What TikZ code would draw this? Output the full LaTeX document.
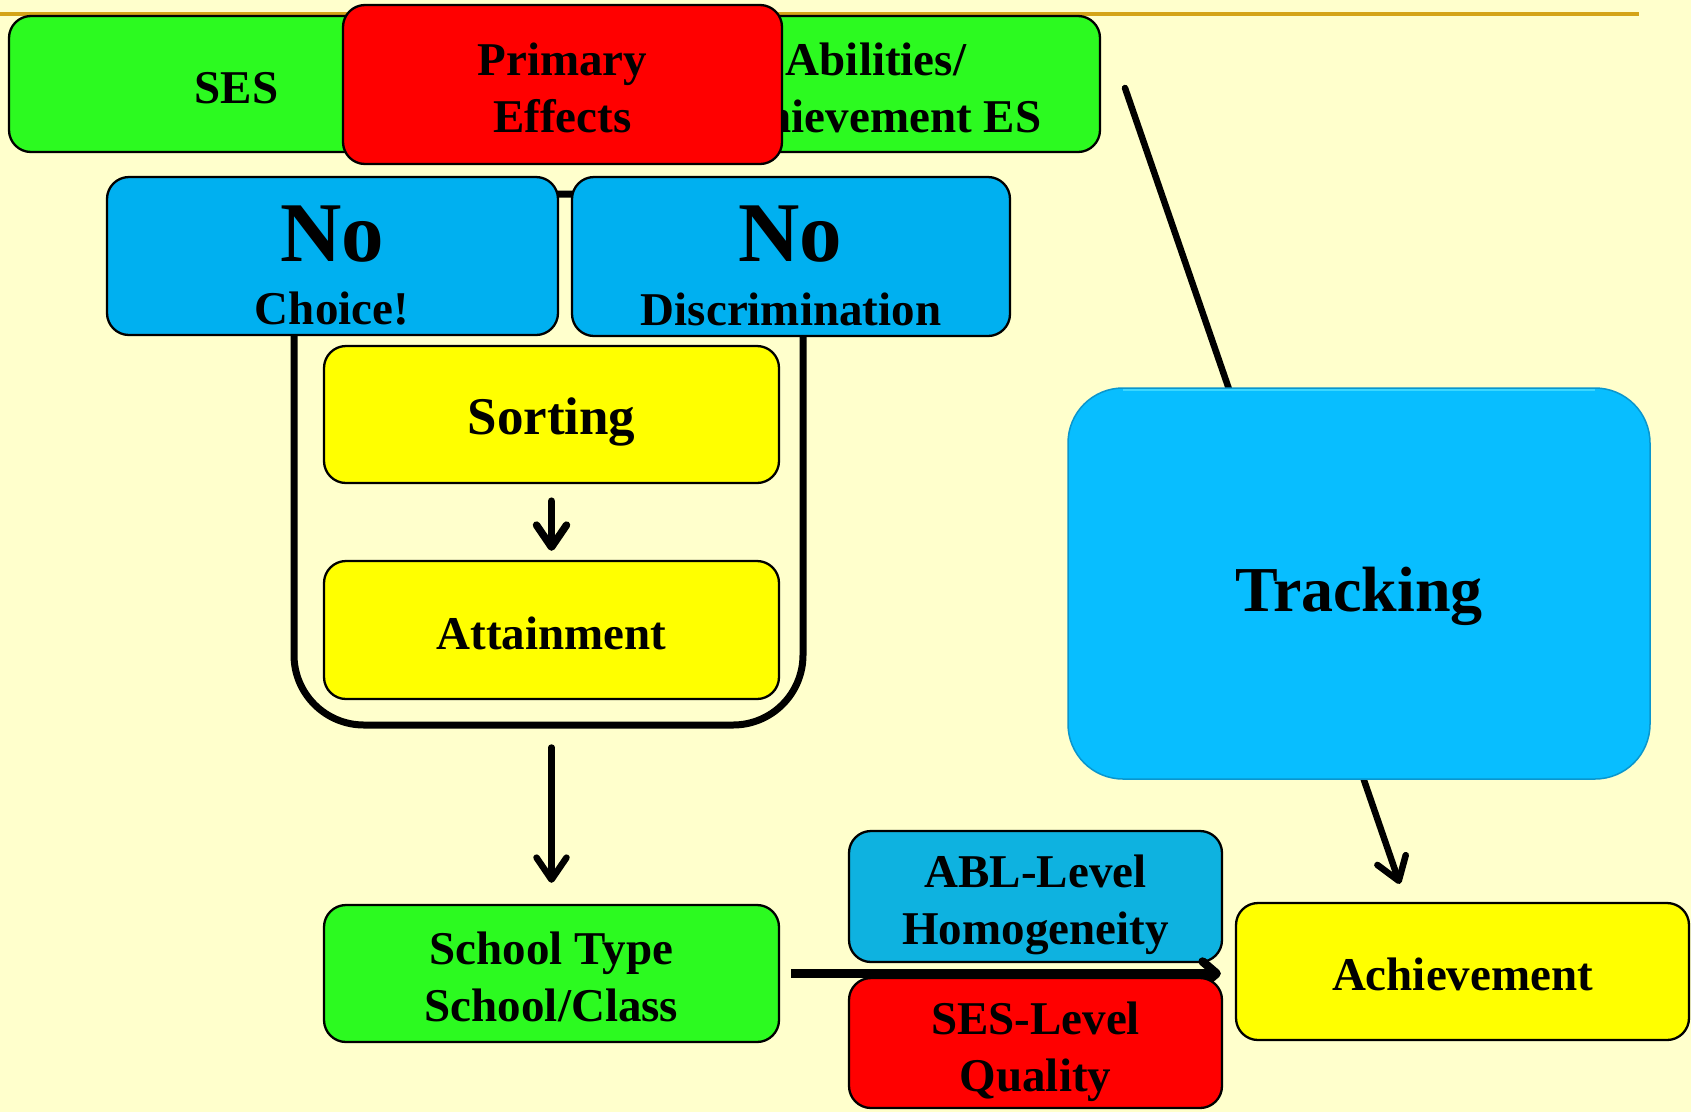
\documentclass[tikz,border=0pt]{standalone}
\usepackage{fontspec}
\setmainfont{Liberation Serif}
\usetikzlibrary{arrows.meta}

\definecolor{paper}{RGB}{255,255,204}
\definecolor{rulegold}{RGB}{212,164,24}
\definecolor{boxgreen}{RGB}{44,250,32}
\definecolor{boxred}{RGB}{255,0,0}
\definecolor{boxblue}{RGB}{0,176,240}
\definecolor{ablblue}{RGB}{14,178,224}
\definecolor{trackblue}{RGB}{8,190,255}
\definecolor{trackedge}{RGB}{10,150,205}
\definecolor{trackglow}{RGB}{60,215,255}
\definecolor{boxyellow}{RGB}{255,255,0}

\tikzset{
  box/.style={draw=black, line width=2.3pt, rounded corners=22pt, inner sep=0pt,
    align=center, font=\fontsize{47}{57}\selectfont\bfseries},
  oneline/.style={text height=38pt, text depth=0pt},
  twoline/.style={text height=96pt, text depth=0pt},
  bigno/.style={anchor=base, inner sep=0pt, font=\fontsize{85}{85}\selectfont\bfseries},
  subno/.style={anchor=base, inner sep=0pt, font=\fontsize{47}{57}\selectfont\bfseries},
  arr/.style={line width=6.5pt, line cap=round,
    -{Straight Barb[length=22pt,width=30pt,round]}},
}

\begin{document}
\begin{tikzpicture}[x=1pt,y=-1pt]
  % page
  \fill[paper] (0,0) rectangle (1691,1112);
  \useasboundingbox (0,0) rectangle (1691,1112);
  \coordinate (ruleL) at (0,14);
  \coordinate (ruleR) at (1639,14);
  \draw[rulegold, line width=4pt] (ruleL) -- (ruleR);

  % top row
  \node[box, fill=boxgreen, minimum width=455pt, minimum height=136pt, oneline]
    (ses) at (236.5,84) {SES};
  \node[box, fill=boxgreen, minimum width=448pt, minimum height=136pt, twoline]
    (abil) at (876,84) {Abilities/\\Achievement ES};
  \node[box, fill=boxred, minimum width=439pt, minimum height=159pt, twoline]
    (primary) at (562.5,84.5) {Primary\\Effects};

  % frame around sorting and attainment
  \node[draw, line width=7pt, rounded corners=70pt, inner sep=0pt,
    minimum width=509pt, minimum height=531pt] (frame) at (548.5,459.5) {};

  % "No" boxes
  \node[box, fill=boxblue, minimum width=451pt, minimum height=158pt]
    (nochoice) at (332.5,256) {};
  \node[bigno] (nochoiceA) at (332,261) {No};
  \node[subno] (nochoiceB) at (332,324) {Choice!};
  \node[box, fill=boxblue, minimum width=438pt, minimum height=159pt]
    (nodiscr) at (791,256.5) {};
  \node[bigno] (nodiscrA) at (790,261) {No};
  \node[subno] (nodiscrB) at (791,325) {Discrimination};

  % inner steps
  \node[box, fill=boxyellow, minimum width=455pt, minimum height=137pt,
    font=\fontsize{53}{60}\selectfont\bfseries, text height=40pt, text depth=0pt]
    (sorting) at (551.5,414.5) {Sorting};
  \node[box, fill=boxyellow, minimum width=455pt, minimum height=138pt, oneline]
    (attain) at (551.5,630) {Attainment};
  \draw[arr, line width=7.5pt, shorten <=17pt, shorten >=9pt] (sorting) -- (attain);

  % tracking branch
  \coordinate (lead) at (1125,88);
  \node[box, fill=boxyellow, minimum width=453pt, minimum height=137pt, oneline]
    (achieve) at (1462.5,971.5) {Achievement};
  \draw[arr, shorten >=19pt] (lead) -- ([xshift=-56.5pt]achieve.north);
  \node[fill=trackblue, draw=trackedge, line width=1.5pt, rounded corners=55pt,
    minimum width=582pt, minimum height=391pt, inner sep=0pt,
    font=\fontsize{64}{70}\selectfont\bfseries, text height=56pt, text depth=0pt]
    (tracking) at (1359,583.5) {Tracking};
  \draw[trackglow, line width=2pt]
    ([xshift=56pt,yshift=-2.5pt]tracking.north west) -- ([xshift=-56pt,yshift=-2.5pt]tracking.north east);

  % school level
  \node[box, fill=boxgreen, minimum width=455pt, minimum height=137pt, twoline]
    (school) at (551.5,973.5) {School Type\\School/Class};
  \draw[arr, shorten <=19pt, shorten >=21pt]
    (school.north |- frame.south) -- (school.north);

  \node[box, fill=ablblue, minimum width=373pt, minimum height=131pt, twoline]
    (abl) at (1035.5,896.5) {ABL-Level\\Homogeneity};
  \draw[line width=8.5pt, -{Straight Barb[length=14pt,width=24pt,round]},
    shorten <=11pt, shorten >=14pt] (school.east) -- (school.east -| achieve.west);
  \node[box, fill=boxred, minimum width=373pt, minimum height=130pt, twoline]
    (seslevel) at (1035.5,1043) {SES-Level\\Quality};
\end{tikzpicture}
\end{document}
